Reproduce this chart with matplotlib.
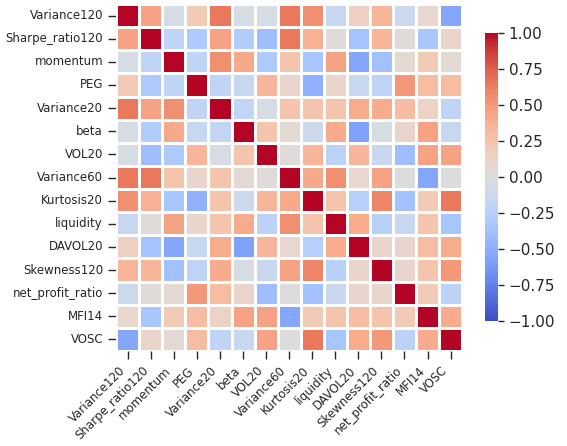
import matplotlib
matplotlib.use("Agg")
import matplotlib.pyplot as plt
import numpy as np
import pandas as pd
import seaborn as sns

factors = ["Variance120", "Sharpe_ratio120", "momentum", "PEG", "Variance20",
           "beta", "VOL20", "Variance60", "Kurtosis20", "liquidity", "DAVOL20",
           "Skewness120", "net_profit_ratio", "MFI14", "VOSC"]

# correlation values, one list per row
r_variance120 = [1.00, 0.45, -0.05, 0.20, 0.65, -0.05, -0.05, 0.65, 0.55, -0.15, 0.15, 0.35, -0.12, 0.08, -0.55]
r_sharpe120 = [0.45, 1.00, -0.20, -0.30, 0.45, -0.28, -0.40, 0.65, 0.37, 0.02, -0.36, 0.35, 0.03, -0.34, 0.10]
r_momentum = [-0.05, -0.20, 1.00, -0.20, 0.55, 0.42, -0.30, 0.25, -0.35, 0.45, -0.55, -0.38, 0.05, 0.20, 0.05]
r_peg = [0.20, -0.30, -0.20, 1.00, -0.20, -0.15, 0.35, 0.10, -0.48, 0.10, -0.15, -0.21, 0.50, 0.30, 0.30]
r_variance20 = [0.65, 0.45, 0.55, -0.20, 1.00, -0.18, -0.05, 0.25, 0.25, 0.25, 0.40, 0.40, 0.30, 0.12, -0.20]
r_beta = [-0.05, -0.28, 0.42, -0.15, -0.18, 1.00, 0.25, 0.05, -0.12, 0.40, -0.58, -0.05, 0.10, 0.45, -0.15]
r_vol20 = [-0.05, -0.40, -0.30, 0.35, -0.05, 0.25, 1.00, 0.03, 0.35, -0.22, 0.35, -0.14, -0.40, 0.45, 0.45]
r_variance60 = [0.65, 0.65, 0.25, 0.10, 0.25, 0.05, 0.03, 1.00, 0.42, 0.55, 0.08, 0.45, 0.00, -0.55, 0.00]
r_kurtosis20 = [0.55, 0.37, -0.35, -0.48, 0.25, -0.12, 0.35, 0.42, 1.00, 0.25, -0.26, 0.60, -0.37, 0.20, 0.65]
r_liquidity = [-0.15, 0.02, 0.45, 0.10, 0.25, 0.40, -0.22, 0.55, 0.25, 1.00, 0.40, -0.25, -0.14, 0.25, -0.35]
r_davol20 = [0.15, -0.36, -0.55, -0.15, 0.40, -0.58, 0.35, 0.08, -0.26, 0.40, 1.00, 0.10, 0.10, 0.30, 0.40]
r_skewness120 = [0.35, 0.35, -0.38, -0.21, 0.40, -0.05, -0.14, 0.45, 0.60, -0.25, 0.10, 1.00, 0.10, 0.25, 0.50]
r_netprofit = [-0.12, 0.03, 0.05, 0.50, 0.30, 0.10, -0.40, 0.00, -0.37, -0.14, 0.10, 0.10, 1.00, 0.20, -0.22]
r_mfi14 = [0.08, -0.34, 0.20, 0.30, 0.12, 0.45, 0.45, -0.55, 0.20, 0.25, 0.30, 0.25, 0.20, 1.00, 0.40]
r_vosc = [-0.55, 0.10, 0.05, 0.30, -0.20, -0.15, 0.45, 0.00, 0.65, -0.35, 0.40, 0.50, -0.22, 0.40, 1.00]

rows = [r_variance120, r_sharpe120, r_momentum, r_peg, r_variance20, r_beta,
        r_vol20, r_variance60, r_kurtosis20, r_liquidity, r_davol20,
        r_skewness120, r_netprofit, r_mfi14, r_vosc]
corr = pd.DataFrame(np.array(rows), index=factors, columns=factors)

sns.set_style("ticks")

fig = plt.figure(figsize=(5.67, 4.46), dpi=100)
ax = fig.add_axes([0.205, 0.213, 0.610, 0.778])
cax = fig.add_axes([0.855, 0.280, 0.024, 0.646])

sns.heatmap(corr, cmap="coolwarm", vmin=-1, vmax=1, linewidths=0.8,
            linecolor="white", square=False, ax=ax, cbar_ax=cax)

ax.set_xticklabels(factors, rotation=45, ha="right", fontsize=8.5)
ax.set_yticklabels(factors, rotation=0, fontsize=8.5)
ax.tick_params(length=5.5, width=1, pad=4)
cax.set_yticks([-1.0, -0.75, -0.5, -0.25, 0.0, 0.25, 0.5, 0.75, 1.0])
cax.set_yticklabels(["\u22121.00", "\u22120.75", "\u22120.50", "\u22120.25", "0.00",
                     "0.25", "0.50", "0.75", "1.00"])
cax.tick_params(labelsize=11, length=4, width=1)

fig.savefig("out.png", dpi=100)
